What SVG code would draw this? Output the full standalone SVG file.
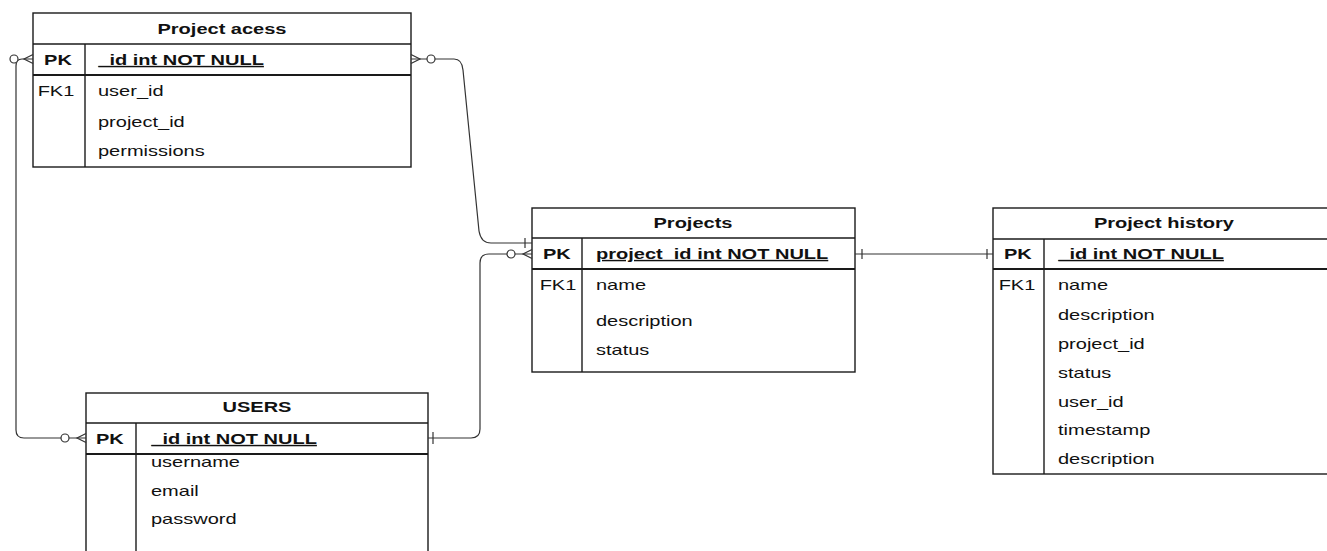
<svg xmlns="http://www.w3.org/2000/svg" width="1327" height="551" viewBox="0 0 1327 551">
<style>
  .box { fill: #fff; stroke: #1a1a1a; stroke-width: 1.4; }
  .ln { stroke: #1a1a1a; stroke-width: 1.4; fill: none; }
  .pkl { stroke: #1a1a1a; stroke-width: 2; fill: none; }
  .t { font-family: "Liberation Sans", Arial, sans-serif; font-size: 14.5px; fill: #111;
       transform-box: fill-box; transform-origin: left center; transform: scaleX(1.38); }
  .c { text-anchor: middle; transform-origin: center; }
  .b { font-weight: bold; }
  .u { text-decoration: underline; }
  .con { stroke: #333; stroke-width: 1.2; fill: none; }
  .circ { stroke: #333; stroke-width: 1.2; fill: #fff; }
</style>

<g id="project-acess">
  <rect class="box" x="33" y="13" width="378" height="154"/>
  <line class="ln" x1="33" y1="44" x2="411" y2="44"/>
  <line class="pkl" x1="33" y1="75" x2="411" y2="75"/>
  <line class="ln" x1="85" y1="44" x2="85" y2="167"/>
  <text class="t c b" x="222" y="34">Project acess</text>
  <text class="t c b" x="58" y="65">PK</text>
  <text class="t b u" x="98" y="65">_id int NOT NULL</text>
  <text class="t c" x="56" y="96">FK1</text>
  <text class="t" x="98" y="96">user_id</text>
  <text class="t" x="98" y="127">project_id</text>
  <text class="t" x="98" y="156">permissions</text>
</g>

<g id="projects">
  <rect class="box" x="532" y="208" width="323" height="164"/>
  <line class="ln" x1="532" y1="238" x2="855" y2="238"/>
  <line class="pkl" x1="532" y1="269" x2="855" y2="269"/>
  <line class="ln" x1="582" y1="238" x2="582" y2="372"/>
  <text class="t c b" x="693" y="228">Projects</text>
  <text class="t c b" x="557" y="259">PK</text>
  <text class="t b u" x="596" y="259">project_id int NOT NULL</text>
  <text class="t c" x="558" y="290">FK1</text>
  <text class="t" x="596" y="290">name</text>
  <text class="t" x="596" y="326">description</text>
  <text class="t" x="596" y="355">status</text>
</g>

<g id="project-history">
  <rect class="box" x="993" y="208" width="350" height="266"/>
  <line class="ln" x1="993" y1="239" x2="1343" y2="239"/>
  <line class="pkl" x1="993" y1="269" x2="1343" y2="269"/>
  <line class="ln" x1="1044" y1="239" x2="1044" y2="474"/>
  <text class="t c b" x="1164" y="228">Project history</text>
  <text class="t c b" x="1018" y="259">PK</text>
  <text class="t b u" x="1058" y="259">_id int NOT NULL</text>
  <text class="t c" x="1017" y="290">FK1</text>
  <text class="t" x="1058" y="290">name</text>
  <text class="t" x="1058" y="320">description</text>
  <text class="t" x="1058" y="349">project_id</text>
  <text class="t" x="1058" y="378">status</text>
  <text class="t" x="1058" y="407">user_id</text>
  <text class="t" x="1058" y="435">timestamp</text>
  <text class="t" x="1058" y="464">description</text>
</g>

<g id="users">
  <rect class="box" x="86" y="393" width="342" height="170"/>
  <line class="ln" x1="86" y1="423" x2="428" y2="423"/>
  <line class="pkl" x1="86" y1="454" x2="428" y2="454"/>
  <line class="ln" x1="136" y1="423" x2="136" y2="563"/>
  <text class="t c b" x="257" y="412">USERS</text>
  <text class="t c b" x="110" y="444">PK</text>
  <text class="t b u" x="151" y="444">_id int NOT NULL</text>
  <text class="t" x="151" y="467">username</text>
  <text class="t" x="151" y="496">email</text>
  <text class="t" x="151" y="524">password</text>
</g>

<g id="connectors">
  <!-- Project acess (left) to USERS -->
  <path class="con" d="M33,59 H22 Q16,59 16,66 V430 Q16,438 24,438 H86"/>
  <path class="con" d="M33,54.5 L24,59 L33,63.5"/>
  <circle class="circ" cx="14" cy="59" r="4"/>
  <path class="con" d="M86,433.5 L77,438 L86,442.5"/>
  <circle class="circ" cx="65" cy="438" r="4"/>

  <!-- Project acess (right) to Projects -->
  <path class="con" d="M411,59 H454 Q462,59 463,70 L479,231 Q481,243 491,243 H532"/>
  <path class="con" d="M411,54.5 L420,59 L411,63.5"/>
  <circle class="circ" cx="431" cy="59" r="4"/>
  <line class="con" x1="525" y1="238" x2="525" y2="248"/>

  <!-- USERS to Projects -->
  <path class="con" d="M428,438 H471 Q480,438 480,429 V263 Q480,254 489,254 H532"/>
  <line class="con" x1="433" y1="432" x2="433" y2="444"/>
  <path class="con" d="M532,249.5 L523,254 L532,258.5"/>
  <circle class="circ" cx="511" cy="254" r="4"/>

  <!-- Projects to Project history -->
  <line class="con" x1="855" y1="254" x2="993" y2="254"/>
  <line class="con" x1="862" y1="249" x2="862" y2="259"/>
  <line class="con" x1="987" y1="249" x2="987" y2="259"/>
</g>
</svg>
